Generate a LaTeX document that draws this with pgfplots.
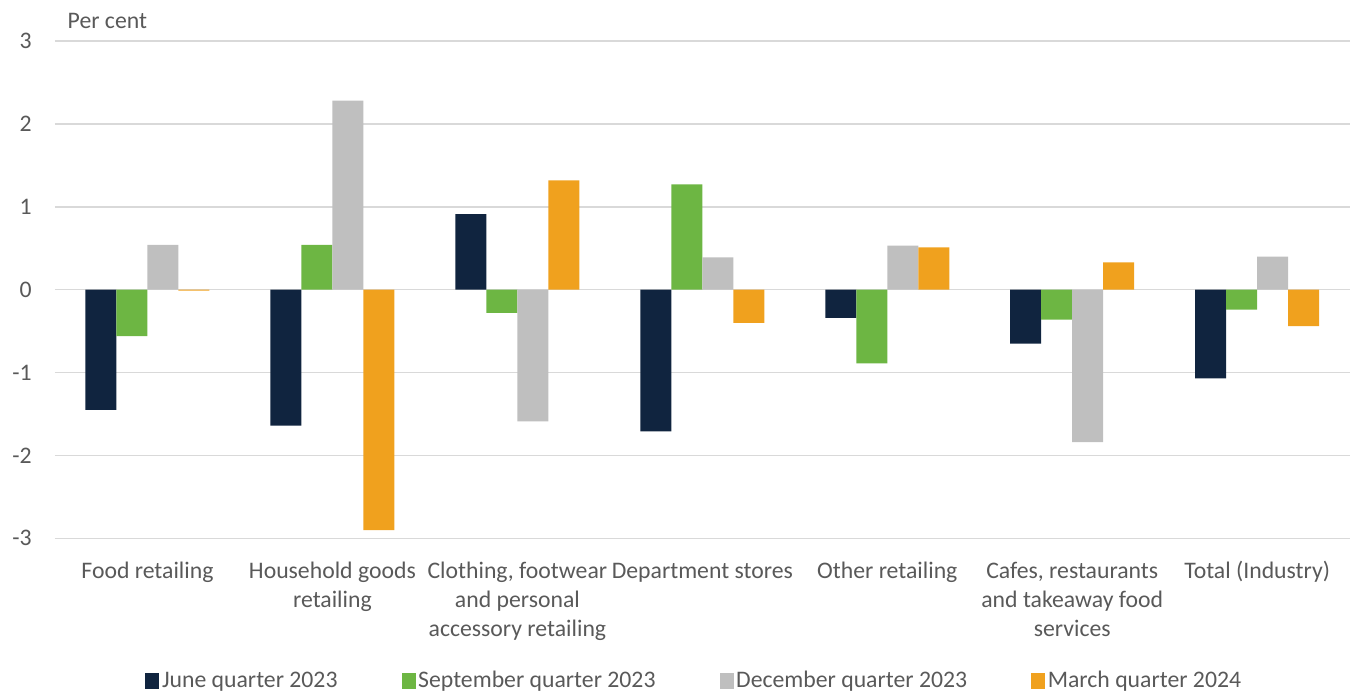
\documentclass[border=0pt]{standalone}
\usepackage{pgfplots}
\pgfplotsset{compat=1.18}
\usepackage{fontspec}
\setmainfont{Carlito}
\definecolor{cnavy}{HTML}{10243F}
\definecolor{cgreen}{HTML}{6DB643}
\definecolor{cgray}{HTML}{BFBFBF}
\definecolor{corange}{HTML}{F0A11E}
\definecolor{ctext}{HTML}{595959}
\definecolor{cgrid}{HTML}{D9D9D9}
\begin{document}
\begin{tikzpicture}
\useasboundingbox (-41.25pt,-116.25pt) rectangle (974.25pt,403.75pt);
\begin{axis}[
  at={(0pt,0pt)}, anchor=south west,
  scale only axis, width=971pt, height=373pt,
  font=\fontsize{17.8}{21.75}\selectfont\color{ctext},
  ybar=0pt, bar width=23.25pt,
  xmin=-0.5, xmax=6.5, ymin=-3, ymax=3,
  xtick=data,
  xticklabels={\strut Food retailing, \strut Household goods\\retailing, {\strut Clothing, footwear\\and personal\\accessory retailing}, \strut Department stores, \strut Other retailing, {\strut Cafes, restaurants\\and takeaway food\\services}, \strut Total (Industry)},
  xticklabel style={align=center, anchor=north, yshift=-11pt},
  ytick={-3,-2,-1,0,1,2,3},
  yticklabels={-3,-2,-1,0,1,2,3},
  yticklabel style={anchor=east, xshift=-14pt},
  major tick length=0pt,
  axis line style={draw=none},
  ymajorgrids, grid style={cgrid, line width=1.1pt},
  legend style={at={(0.494,-0.286)}, anchor=center, draw=none, fill=none,
    legend columns=4, /tikz/every even column/.append style={column sep=46pt},
    font=\fontsize{17.8}{20}\selectfont\color{ctext}},
  legend image code/.code={\fill[#1] (0pt,-6.5pt) rectangle (10.5pt,6pt);},
  clip=false,
]
\addplot[fill=cnavy, draw=none] coordinates {(0,-1.45) (1,-1.64) (2,0.91) (3,-1.71) (4,-0.34) (5,-0.65) (6,-1.07)};
\addplot[fill=cgreen, draw=none] coordinates {(0,-0.56) (1,0.54) (2,-0.28) (3,1.27) (4,-0.89) (5,-0.36) (6,-0.24)};
\addplot[fill=cgray, draw=none] coordinates {(0,0.54) (1,2.28) (2,-1.59) (3,0.39) (4,0.53) (5,-1.84) (6,0.40)};
\addplot[fill=corange, draw=none] coordinates {(0,-0.01) (1,-2.90) (2,1.32) (3,-0.40) (4,0.51) (5,0.33) (6,-0.44)};
\legend{June quarter 2023, September quarter 2023, December quarter 2023, March quarter 2024}
\node[anchor=west, font=\fontsize{17.8}{20}\selectfont\color{ctext}] at ([xshift=6pt,yshift=15pt]rel axis cs:0,1) {Per cent};
\end{axis}
\end{tikzpicture}
\end{document}
